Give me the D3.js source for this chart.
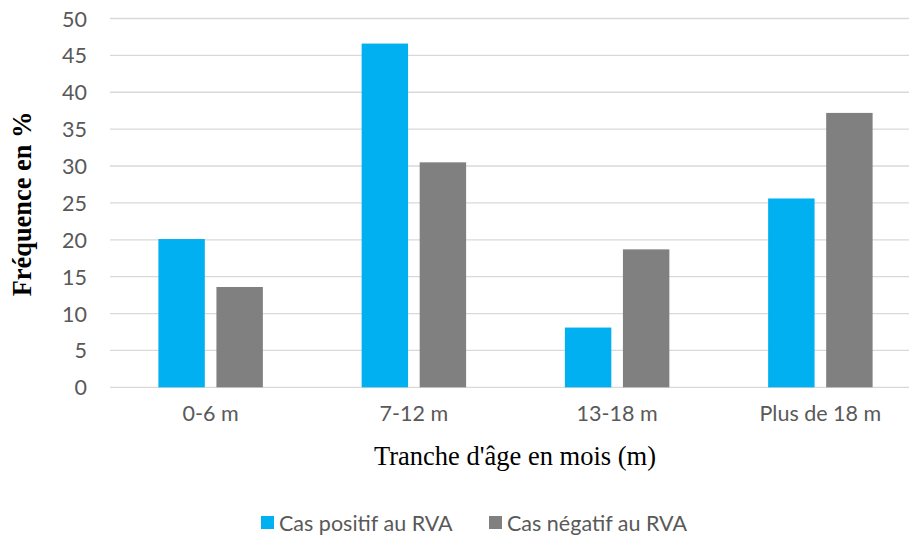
<!DOCTYPE html>
<html>
<head>
    <meta charset="utf-8">
    <style>
        body { margin: 0; background: #fff; }
        .tick text { font-family: Lato, "Open Sans", sans-serif; fill: #595959; }
    </style>
</head>
<body>
    <script src="https://d3js.org/d3.v7.min.js"></script>
    <script>
        const width = 909;
        const height = 539;

        // data
        const categories = ["0-6 m", "7-12 m", "13-18 m", "Plus de 18 m"];
        const seriesNames = ["Cas positif au RVA", "Cas négatif au RVA"];
        const positif = [20.1, 46.6, 8.1, 25.6];
        const negatif = [13.6, 30.5, 18.7, 37.2];
        const yTicks = [0, 5, 10, 15, 20, 25, 30, 35, 40, 45, 50];
        const colors = ["#00B0F0", "#808080"];

        const rows = categories.map((c, i) => ({cat: c, vals: [positif[i], negatif[i]]}));

        const svg = d3.select("body").append("svg")
            .attr("width", width).attr("height", height);

        const x0 = d3.scaleBand().domain(categories).range([109, 922]).paddingInner(0.486).paddingOuter(0.243);
        const x1 = d3.scaleBand().domain([0, 1]).range([0, x0.bandwidth()]).paddingInner(0.2);
        const y = d3.scaleLinear().domain([0, 50]).range([387.3, 18.5]);

        // gridlines
        svg.append("g").selectAll("line").data(yTicks).enter().append("line")
            .attr("x1", 110).attr("x2", 922)
            .attr("y1", d => y(d)).attr("y2", d => y(d))
            .attr("stroke", "#d9d9d9").attr("stroke-width", 1.3);

        // y axis labels
        const ya = svg.append("g").attr("transform", "translate(87,0)")
            .call(d3.axisLeft(y).tickValues(yTicks).tickSize(0).tickPadding(0));
        ya.select(".domain").remove();
        ya.selectAll("text").attr("font-size", 21.5).attr("dy", "0.35em");

        // bars
        const g = svg.append("g").selectAll("g").data(rows).enter().append("g")
            .attr("transform", d => `translate(${x0(d.cat)},0)`);
        g.selectAll("rect").data(d => d.vals).enter().append("rect")
            .attr("x", (d, i) => x1(i))
            .attr("width", x1.bandwidth())
            .attr("y", d => y(d))
            .attr("height", d => y(0) - y(d))
            .attr("fill", (d, i) => colors[i]);

        // x axis labels
        const xa = svg.append("g").attr("transform", `translate(0,${y(0) + 19})`)
            .call(d3.axisBottom(x0).tickSize(0).tickPadding(0));
        xa.select(".domain").remove();
        xa.selectAll("text").attr("font-size", 21.5).attr("dy", "0.7em");

        // axis titles
        svg.append("text")
            .attr("x", 515).attr("y", 465)
            .attr("text-anchor", "middle")
            .attr("font-family", "'Liberation Serif', 'Times New Roman', serif")
            .attr("font-size", 26.5).attr("fill", "#000")
            .text("Tranche d'âge en mois (m)");

        svg.append("text")
            .attr("transform", "translate(31,204) rotate(-90)")
            .attr("text-anchor", "middle")
            .attr("font-family", "'Liberation Serif', 'Times New Roman', serif")
            .attr("font-weight", "bold")
            .attr("font-size", 26.4).attr("fill", "#000")
            .text("Fréquence en %");

        // legend
        const legX = [261, 489];
        const leg = svg.append("g").selectAll("g").data(seriesNames).enter().append("g")
            .attr("transform", (d, i) => `translate(${legX[i]},523)`);
        leg.append("rect").attr("x", 0).attr("y", -7).attr("width", 13).attr("height", 13)
            .attr("fill", (d, i) => colors[i]);
        leg.append("text").attr("x", 18).attr("dy", "0.35em")
            .attr("font-family", "Lato, 'Open Sans', sans-serif")
            .attr("font-size", 21.5).attr("fill", "#595959")
            .text(d => d);
    </script>
</body>
</html>
